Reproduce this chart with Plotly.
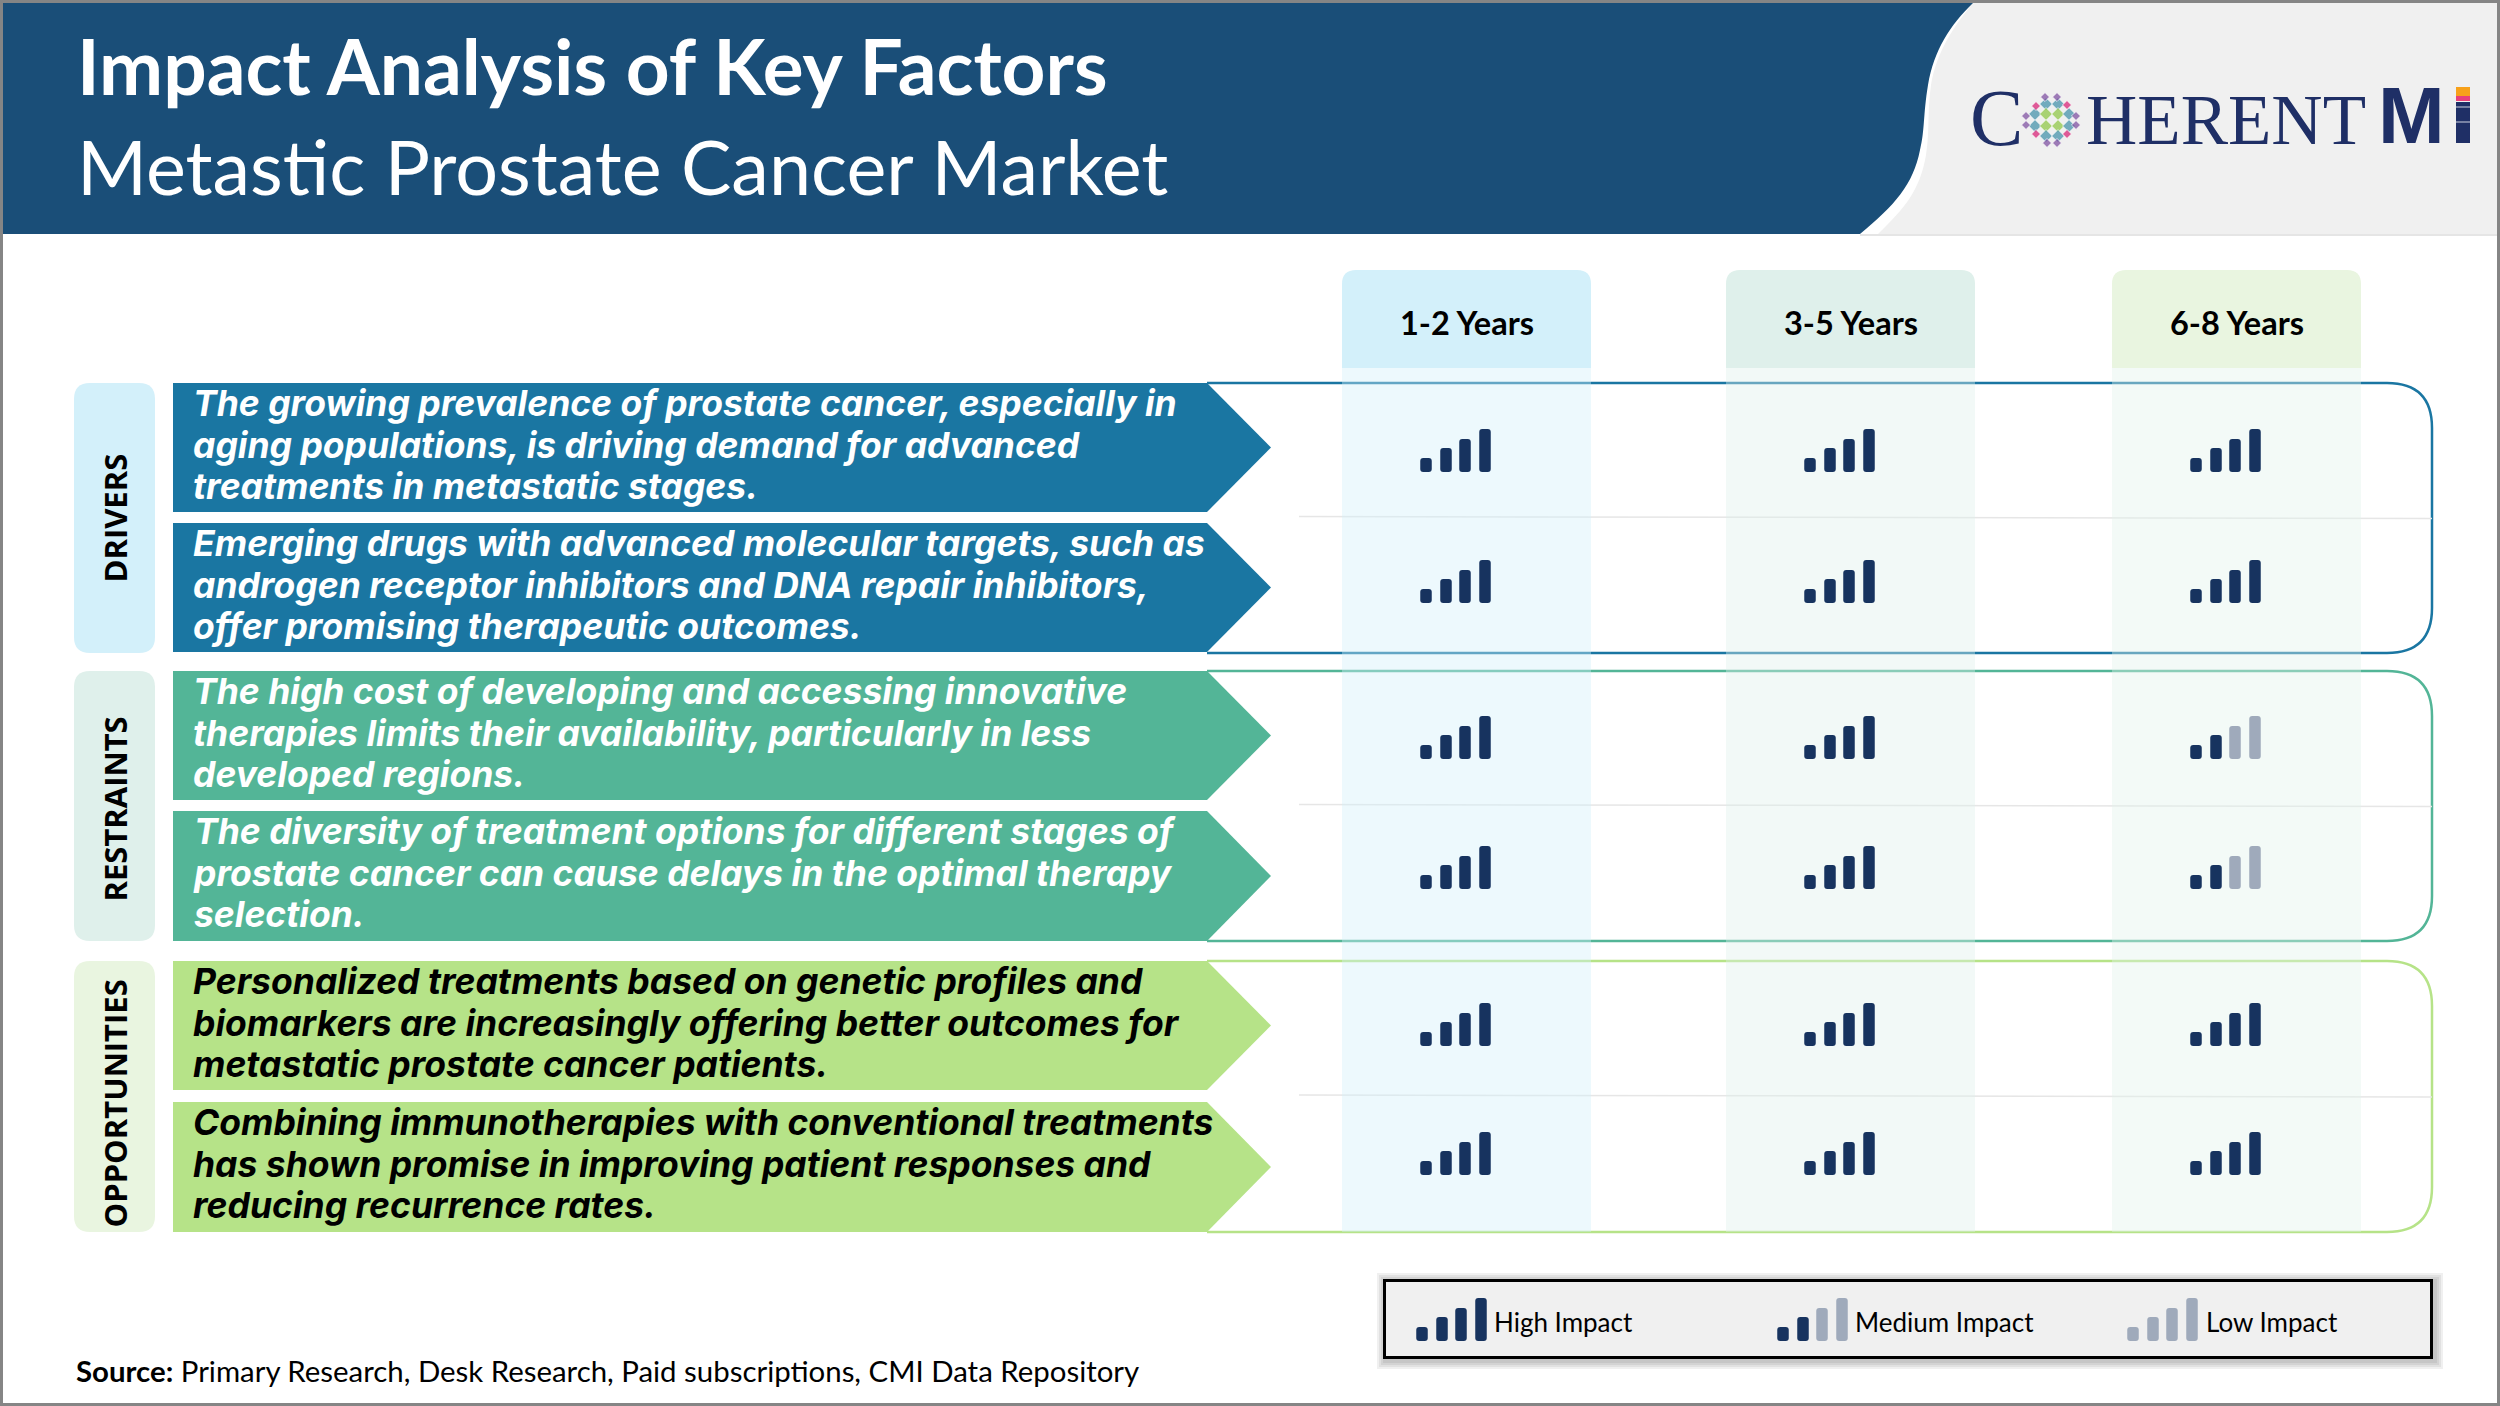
import plotly.graph_objects as go

title = "Impact Analysis of Key Factors"
subtitle = "Metastic Prostate Cancer Market"
source_bold = "Source:"
source_rest = "Primary Research, Desk Research, Paid subscriptions, CMI Data Repository"

periods = ["1-2 Years", "3-5 Years", "6-8 Years"]
groups = ["DRIVERS", "RESTRAINTS", "OPPORTUNITIES"]

statements = [
    ["The growing prevalence of prostate cancer, especially in",
     "aging populations, is driving demand for advanced",
     "treatments in metastatic stages."],
    ["Emerging drugs with advanced molecular targets, such as",
     "androgen receptor inhibitors and DNA repair inhibitors,",
     "offer promising therapeutic outcomes."],
    ["The high cost of developing and accessing innovative",
     "therapies limits their availability, particularly in less",
     "developed regions."],
    ["The diversity of treatment options for different stages of",
     "prostate cancer can cause delays in the optimal therapy",
     "selection."],
    ["Personalized treatments based on genetic profiles and",
     "biomarkers are increasingly offering better outcomes for",
     "metastatic prostate cancer patients."],
    ["Combining immunotherapies with conventional treatments",
     "has shown promise in improving patient responses and",
     "reducing recurrence rates."],
]

# how many of the four signal bars are dark, one row per statement
impact_levels = [
    [4, 4, 4],
    [4, 4, 4],
    [4, 4, 2],
    [4, 4, 2],
    [4, 4, 4],
    [4, 4, 4],
]

legend_names = ["High Impact", "Medium Impact", "Low Impact"]
legend_levels = [4, 2, 0]

# layout, in picture pixels
row_tops = [383, 523, 671, 811, 961, 1102]
row_bottoms = [512, 652, 800, 941, 1090, 1232]
group_tops = [383, 671, 961]
group_bottoms = [653, 941, 1232]
group_label_y = [518, 809, 1104]
col_lefts = [1342, 1726, 2112]
col_width = 249
icon_lefts = [1420, 1804, 2190]
icon_bottoms = [472, 603, 759, 889, 1046, 1175]
bar_offsets = [6, 26, 45, 65]
bar_heights = [14, 24, 33, 43]
legend_icon_lefts = [1416, 1777, 2127]
legend_text_x = [1492, 1853, 2204]

group_colors = ["#1A76A2", "#53B597", "#B6E388"]
tile_colors = ["#D3F0FA", "#DFF0EB", "#E9F5E0"]
band_colors = ["#D3F0FA", "#DFF0EB", "#E0F2EC"]
text_colors = ["white", "white", "black"]
dark_bar = "#17335F"
pale_bar = "#9FAABB"
navy = "#1F2F66"
body_font = "Lato"


def rounded(x0, y0, x1, y1, r, bottom=True):
    p = f"M{x0},{y0 + r} Q{x0},{y0} {x0 + r},{y0} L{x1 - r},{y0} Q{x1},{y0} {x1},{y0 + r} "
    if bottom:
        p += f"L{x1},{y1 - r} Q{x1},{y1} {x1 - r},{y1} L{x0 + r},{y1} Q{x0},{y1} {x0},{y1 - r} Z"
    else:
        p += f"L{x1},{y1} L{x0},{y1} Z"
    return p


shapes = []
notes = []


def add_shape(path, fill=None, line=None, width=0, opacity=1):
    shapes.append(dict(type="path", path=path, xref="x", yref="y", layer="below",
                       fillcolor=fill if fill else "rgba(0,0,0,0)", opacity=opacity,
                       line=dict(color=line if line else "rgba(0,0,0,0)", width=width)))


def add_text(x, y, text, size, color="black", family=body_font, anchor="left", angle=0):
    notes.append(dict(x=x, y=y, xref="x", yref="y", text=text, showarrow=False, xanchor=anchor,
                      yanchor="middle", align="left", textangle=angle,
                      font=dict(size=size, color=color, family=family)))


# header
add_shape("M1800,3 L2497,3 L2497,234 L1800,234 Z", fill="#F0F0F0")
add_shape("M1960,3 L1973,3 C1955,25 1937,50 1931,85 C1927,115 1930,130 1926,155 "
          "C1920,190 1905,208 1878,234 L1850,234 Z", fill="white")
add_shape("M0,3 L1973,3 C1950,25 1934,50 1928,85 C1923,115 1925,130 1920,150 "
          "C1913,185 1895,205 1860,234 L0,234 Z", fill="#1A4E78")
add_shape("M1860,235 L2497,235", line="#DDDDDD", width=1.5)
add_text(75, 65, f"<b>{title}</b>", 76.5, "white")
add_text(75, 165, subtitle, 75.5, "white")

# logo
add_text(1968, 118, "C", 80, navy, family="Liberation Serif")
add_text(2084, 120, "HERENT", 71, navy, family="Liberation Serif")
add_text(2376, 115, "<b>M</b>", 80, navy, family="Liberation Sans")
add_shape("M2456,87 L2470,87 L2470,96 L2456,96 Z", fill="#F7A11A")
add_shape("M2456,96 L2470,96 L2470,101 L2456,101 Z", fill="#E8417A")
add_shape("M2456,102 L2470,102 L2470,143 L2456,143 Z", fill=navy)
add_shape("M2456,107 L2470,107", line="#D0D4E0", width=1)
add_shape("M2456,122 L2470,122", line="#D0D4E0", width=1)
dot_x = [2046, 2058, 2035, 2046, 2058, 2069, 2035, 2046, 2058, 2069, 2046, 2058,
         2036, 2067, 2036, 2067, 2045, 2057, 2026, 2076, 2026, 2076, 2047, 2057]
dot_y = [104, 104, 114, 114, 114, 114, 126, 126, 126, 126, 136, 136,
         106, 105, 134, 134, 97, 97, 116, 116, 125, 125, 143, 143]
dot_c = ["#3E8FA8"] * 2 + ["#3E8FA8", "#8CC63F", "#8CC63F", "#3E8FA8"] * 2 + ["#3E8FA8"] * 2 + \
        ["#D81B72"] * 4 + ["#7B4A9E"] * 8
dot_s = [10] * 12 + [7] * 12

# outlines, separators and column bands
for i in range(3):
    y0, y1, r = group_tops[i], group_bottoms[i], 45
    add_shape(f"M1207,{y0} L{2432 - r},{y0} Q2432,{y0} 2432,{y0 + r} L2432,{y1 - r} "
              f"Q2432,{y1} {2432 - r},{y1} L1207,{y1}", line=group_colors[i], width=2.5)
    mid = (row_bottoms[2 * i] + row_tops[2 * i + 1]) / 2
    add_shape(f"M1299,{mid - 1} L2432,{mid + 1}", line="#E6E6E6", width=1.5)

for j in range(3):
    x0 = col_lefts[j]
    add_shape(rounded(x0, 270, x0 + col_width, 368, 14, bottom=False), fill=tile_colors[j])
    add_shape(f"M{x0},368 L{x0 + col_width},368 L{x0 + col_width},1232 L{x0},1232 Z",
              fill=band_colors[j], opacity=0.4)
    add_text(x0 + col_width / 2, 322, f"<b>{periods[j]}</b>", 32.5, "black", anchor="center")

# group pills
for i in range(3):
    add_shape(rounded(74, group_tops[i], 155, group_bottoms[i], 16), fill=tile_colors[i])
    add_text(114.5, group_label_y[i], f"<b>{groups[i]}</b>", 31, "black",
             family="Open Sans", anchor="center", angle=-90)

# chevrons with their statements; outer size sets the line pitch, the span sets the glyph size
for i in range(6):
    g = i // 2
    y0, y1 = row_tops[i], row_bottoms[i]
    add_shape(f"M173,{y0} L1207,{y0} L1271,{(y0 + y1) / 2} L1207,{y1} L173,{y1} Z", fill=group_colors[g])
    lines = [f"<span style='font-size:35.5px'><b><i>{t}</i></b></span>" for t in statements[i]]
    add_text(191, (y0 + y1) / 2 - 3, "<br>".join(lines), 32, text_colors[g], family="Inter")

# signal bars
bar_x, bar_top, bar_len, bar_col = [], [], [], []


def add_signal(left, bottom, level):
    for n in range(4):
        bar_x.append(left + bar_offsets[n])
        bar_top.append(bottom - bar_heights[n])
        bar_len.append(bar_heights[n])
        bar_col.append(dark_bar if n < level else pale_bar)


for i in range(6):
    for j in range(3):
        add_signal(icon_lefts[j], icon_bottoms[i], impact_levels[i][j])

# legend
for out in (8, 6, 4, 2):
    add_shape(f"M{1383 - out + 2},{1279 - out + 2} L{2433 + out + 2},{1279 - out + 2} "
              f"L{2433 + out + 2},{1359 + out + 2} L{1383 - out + 2},{1359 + out + 2} Z",
              fill="black", opacity=0.06)
add_shape("M1384.5,1280.5 L2431.5,1280.5 L2431.5,1357.5 L1384.5,1357.5 Z", fill="#F0F0F0", line="black", width=3)
for n in range(3):
    add_signal(legend_icon_lefts[n], 1341, legend_levels[n])
    add_text(legend_text_x[n], 1322, legend_names[n], 26)

# source and frame
add_text(74, 1370, f"<b>{source_bold}</b> {source_rest}", 29.4)
add_shape("M1.5,1.5 L2498.5,1.5 L2498.5,1404.5 L1.5,1404.5 Z", line="#858585", width=3)

fig = go.Figure()
fig.add_trace(go.Bar(x=bar_x, y=bar_len, base=bar_top, width=11.5, marker=dict(color=bar_col, line_width=0),
                     hoverinfo="skip", showlegend=False))
fig.add_trace(go.Scatter(x=dot_x, y=dot_y, mode="markers", hoverinfo="skip", showlegend=False,
                         marker=dict(symbol="diamond", size=dot_s, color=dot_c)))
fig.update_layout(
    width=2500, height=1406, margin=dict(l=0, r=0, t=0, b=0),
    paper_bgcolor="white", plot_bgcolor="white",
    barmode="overlay", barcornerradius=3,
    shapes=shapes, annotations=notes,
    xaxis=dict(range=[0, 2500], visible=False, fixedrange=True),
    yaxis=dict(range=[1406, 0], visible=False, fixedrange=True),
)
fig.write_html("out.html", config=dict(displayModeBar=False), post_script="document.body.style.margin='0';")
